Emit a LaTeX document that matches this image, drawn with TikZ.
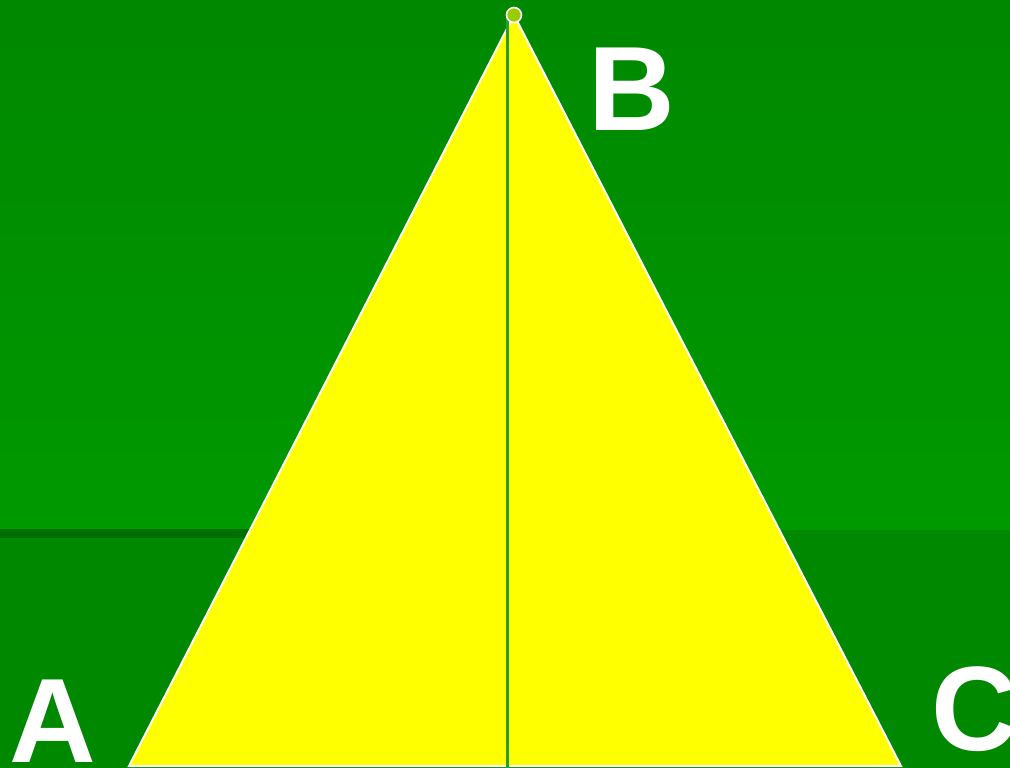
\documentclass[tikz,border=0pt]{standalone}
\usepackage{fontspec}
\setmainfont{Liberation Sans}
\usepackage{tikz}
\usetikzlibrary{calc}

\definecolor{bgtop}{RGB}{0,136,0}
\definecolor{bgmid}{RGB}{0,153,0}
\definecolor{bglow}{RGB}{0,136,0}
\definecolor{bgband}{RGB}{0,110,0}
\definecolor{trifill}{RGB}{255,255,0}
\definecolor{apexdot}{RGB}{153,204,0}
\definecolor{axisline}{RGB}{40,160,40}

\tikzset{
    vlabel/.style={text=white, font=\fontsize{120}{120}\selectfont\bfseries, inner sep=0pt, anchor=base},
    triedge/.style={draw=white, line width=2pt, line join=miter},
}

\begin{document}
\begin{tikzpicture}[x=1pt, y=-1pt]
    \useasboundingbox (0,0) rectangle (1010,768);
    % background
    \shade[top color=bgtop, bottom color=bgmid] (0,0) rectangle (1010,530);
    \fill[bglow] (0,530) rectangle (1010,768);
    \fill[bgband] (0,529) rectangle (250,538);
    % vertices
    \coordinate (A) at (129,766);
    \coordinate (B) at (514,15);
    \coordinate (C) at (901,766);
    \coordinate (H) at (507.5,768);
    \filldraw[fill=trifill, triedge] (A) -- (B) -- (C) -- cycle;
    \draw[axisline, line width=2.5pt] (507.5,15) -- (H);
    \filldraw[fill=apexdot, draw=white, line width=1.6pt] (B) circle (7.5);
    % labels
    \foreach \lname/\lpos in {A/{53,762}, B/{632,130}, C/{975,750}} {
        \node[vlabel] (l-\lname) at (\lpos) {\lname};
    }
\end{tikzpicture}
\end{document}
